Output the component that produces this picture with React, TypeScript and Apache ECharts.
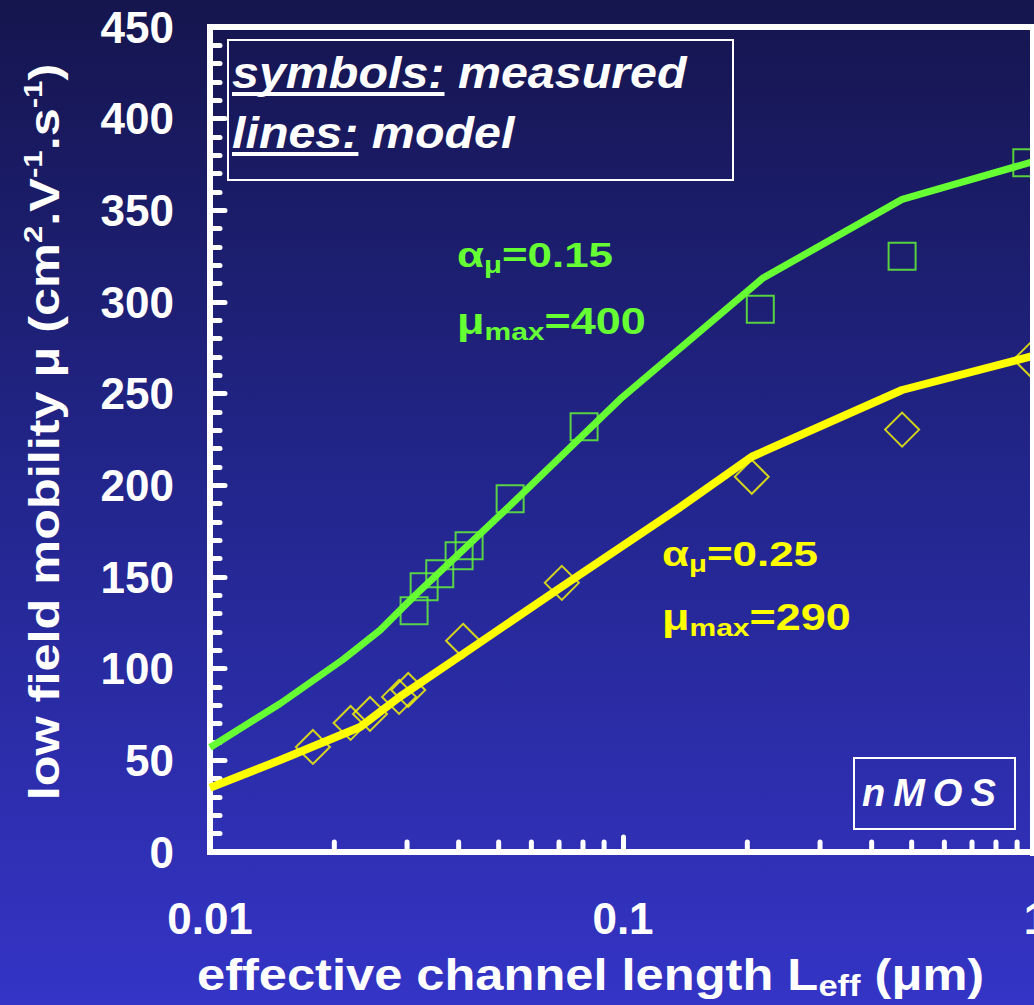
import { useEffect, useRef } from 'react';
import * as echarts from 'echarts';

// ---- data ----
const X_MIN = 0.01;
const X_MAX = 1;
const Y_MIN = 0;
const Y_MAX = 450;
const Y_INTERVAL = 50;

// measured points (symbols)
const greenMeasuredL = [0.0312, 0.033, 0.036, 0.0401, 0.0424, 0.0533, 0.0805, 0.215, 0.474, 0.95];
const greenMeasuredMu = [131.6, 144.7, 151.8, 161.6, 167.0, 192.7, 232.0, 296.0, 325.0, 376.0];
const yellowMeasuredL = [0.01775, 0.0219, 0.0244, 0.0287, 0.0302, 0.041, 0.0711, 0.205, 0.474, 0.97];
const yellowMeasuredMu = [57.3, 70.4, 75.3, 84.6, 88.4, 115.2, 146.8, 204.7, 230.4, 268.6];

// model curves (lines)
const greenModelL = [0.01, 0.0148, 0.021, 0.0258, 0.0312, 0.0533, 0.0805, 0.0984, 0.218, 0.474, 1.0];
const greenModelMu = [57, 81, 105, 121, 139.5, 189, 228, 247, 313, 356, 377];
const yellowModelL = [0.01, 0.0148, 0.0231, 0.0288, 0.041, 0.0711, 0.1374, 0.205, 0.474, 1.0];
const yellowModelMu = [35, 50.2, 68.2, 84.6, 108, 144.7, 188, 215.6, 252, 271];

const xMinorTicks = [0.02, 0.03, 0.04, 0.05, 0.06, 0.07, 0.08, 0.09, 0.2, 0.3, 0.4, 0.5, 0.6, 0.7, 0.8, 0.9];

const GREEN = '#66ff33';
const YELLOW = '#ffff00';
const FONT = '"Liberation Sans", Arial, Helvetica, sans-serif';

function measure(text: string, font: string): number {
  const c = document.createElement('canvas').getContext('2d');
  if (!c) return text.length * 20;
  c.font = font;
  return c.measureText(text).width;
}

export default function App() {
  const ref = useRef<HTMLDivElement>(null);

  useEffect(() => {
    if (!ref.current) return;
    const chart = echarts.init(ref.current, undefined, { renderer: 'svg' });

    const legendFont = `italic bold 44px ${FONT}`;
    const uSym = measure('symbols:', legendFont);
    const uLines = measure('lines:', legendFont);

    const richBase = (color: string, size: number) => ({
      a: { fontSize: size, fontWeight: 'bold', fontFamily: FONT, fill: color, lineHeight: size + 8 },
      s: { fontSize: Math.round(size * 0.68), fontWeight: 'bold', fontFamily: FONT, fill: color, verticalAlign: 'bottom', lineHeight: Math.round(size * 0.68) },
      p: { fontSize: Math.round(size * 0.62), fontWeight: 'bold', fontFamily: FONT, fill: color, verticalAlign: 'top', lineHeight: Math.round(size * 0.62) },
    });

    const annot = (text: string, x: number, y: number, color: string, sx: number) => ({
      type: 'text',
      x,
      y,
      scaleX: sx,
      z: 50,
      style: {
        text,
        rich: richBase(color, 36),
        fill: color,
        align: 'left',
        textAlign: 'left',
        verticalAlign: 'middle',
        textVerticalAlign: 'middle',
      },
    });

    const nmosLetters = 'nMOS'.split('');
    const nmosFont = `italic bold 38px ${FONT}`;
    let nx = 862;
    const nmosEls = nmosLetters.map((ch) => {
      const el = {
        type: 'text',
        x: nx,
        y: 793,
        z: 50,
        style: {
          text: ch,
          font: nmosFont,
          fill: '#ffffff',
          align: 'left',
          textAlign: 'left',
          verticalAlign: 'middle',
          textVerticalAlign: 'middle',
        },
      };
      nx += measure(ch, nmosFont) + 8;
      return el;
    });

    const option: any = {
      animation: false,
      backgroundColor: {
        type: 'linear',
        x: 0, y: 0, x2: 0, y2: 1,
        colorStops: [
          { offset: 0, color: '#15154e' },
          { offset: 0.5, color: '#23268e' },
          { offset: 1, color: '#3434c6' },
        ],
      },
      grid: {
        left: 210,
        right: -2,
        top: 27,
        bottom: 153,
        outerBoundsMode: 'none',
        containLabel: false,
        show: true,
        borderColor: '#ffffff',
        borderWidth: 6,
        backgroundColor: 'transparent',
      },
      xAxis: {
        type: 'log',
        logBase: 10,
        min: X_MIN,
        max: X_MAX,
        axisLine: { show: true, lineStyle: { color: '#ffffff', width: 6 } },
        axisTick: { show: true, inside: true, length: 15, lineStyle: { color: '#ffffff', width: 5, cap: 'round' } },
        minorTick: { show: false },
        splitLine: { show: false },
        axisLabel: {
          color: '#ffffff',
          fontSize: 44,
          fontWeight: 'bold',
          fontFamily: FONT,
          margin: 44,
          hideOverlap: false,
          formatter: (v: number) => String(+v.toPrecision(3)),
        },
      },
      yAxis: {
        type: 'value',
        min: Y_MIN,
        max: Y_MAX,
        interval: Y_INTERVAL,
        axisLine: { show: true, lineStyle: { color: '#ffffff', width: 6 } },
        axisTick: { show: true, inside: true, length: 15, lineStyle: { color: '#ffffff', width: 5, cap: 'round' } },
        minorTick: { show: true, splitNumber: 5, length: 10, lineStyle: { color: '#ffffff', width: 5, cap: 'round' } },
        splitLine: { show: false },
        axisLabel: {
          color: '#ffffff',
          fontSize: 44,
          fontWeight: 'bold',
          fontFamily: FONT,
          margin: 36,
        },
      },
      series: [
        {
          type: 'custom',
          name: 'x minor ticks',
          silent: true,
          z: 3,
          data: xMinorTicks.map((v) => [v, 0]),
          renderItem: (_p: any, api: any) => {
            const pt = api.coord([api.value(0), 0]);
            return {
              type: 'line',
              shape: { x1: pt[0], y1: pt[1] - 2, x2: pt[0], y2: pt[1] - 10 },
              style: { stroke: '#ffffff', lineWidth: 5, lineCap: 'round' },
            };
          },
        },
        {
          type: 'line',
          name: 'model α=0.15',
          data: greenModelL.map((l, i) => [l, greenModelMu[i]]),
          showSymbol: false,
          symbol: 'none',
          lineStyle: { color: GREEN, width: 7 },
          z: 4,
        },
        {
          type: 'line',
          name: 'model α=0.25',
          data: yellowModelL.map((l, i) => [l, yellowModelMu[i]]),
          showSymbol: false,
          symbol: 'none',
          lineStyle: { color: YELLOW, width: 8 },
          z: 4,
        },
        {
          type: 'scatter',
          name: 'measured α=0.15',
          data: greenMeasuredL.map((l, i) => [l, greenMeasuredMu[i]]),
          symbol: 'rect',
          symbolSize: 27,
          itemStyle: { color: 'rgba(0,0,0,0)', borderColor: GREEN, borderWidth: 2 },
          z: 5,
        },
        {
          type: 'scatter',
          name: 'measured α=0.25',
          data: yellowMeasuredL.map((l, i) => [l, yellowMeasuredMu[i]]),
          symbol: 'diamond',
          symbolSize: 34,
          itemStyle: { color: 'rgba(0,0,0,0)', borderColor: YELLOW, borderWidth: 2 },
          z: 5,
        },
      ],
      graphic: [
        // right frame edge
        { type: 'rect', z: 100, shape: { x: 1030, y: 24, width: 4, height: 832 }, style: { fill: '#ffffff' } },
        // y axis title
        {
          type: 'text',
          x: 45,
          y: 432,
          rotation: Math.PI / 2,
          scaleX: 1.2,
          z: 50,
          style: {
            text: '{a|low field mobility μ (cm}{p|2}{a|.V}{p|-1}{a|.s}{p|-1}{a|)}',
            rich: richBase('#ffffff', 42),
            fill: '#ffffff',
            align: 'center',
            textAlign: 'center',
            verticalAlign: 'middle',
            textVerticalAlign: 'middle',
          },
        },
        // x axis title
        {
          type: 'text',
          x: 197,
          y: 975,
          scaleX: 1.15,
          z: 50,
          style: {
            text: '{a|effective channel length L}{s|eff}{a| (μm)}',
            rich: richBase('#ffffff', 44),
            fill: '#ffffff',
            align: 'left',
            textAlign: 'left',
            verticalAlign: 'middle',
            textVerticalAlign: 'middle',
          },
        },
        // legend box
        { type: 'rect', z: 40, shape: { x: 228, y: 40, width: 505, height: 140 }, style: { fill: 'none', stroke: '#ffffff', lineWidth: 2 } },
        {
          type: 'group',
          x: 232,
          y: 73,
          scaleX: 1.1,
          z: 50,
          children: [
            { type: 'text', x: 0, y: 0, style: { text: 'symbols: measured', font: legendFont, fill: '#ffffff', align: 'left', textAlign: 'left', verticalAlign: 'middle', textVerticalAlign: 'middle' } },
            { type: 'rect', shape: { x: 0, y: 19, width: uSym, height: 4 }, style: { fill: '#ffffff' } },
          ],
        },
        {
          type: 'group',
          x: 232,
          y: 133,
          scaleX: 1.1,
          z: 50,
          children: [
            { type: 'text', x: 0, y: 0, style: { text: 'lines: model', font: legendFont, fill: '#ffffff', align: 'left', textAlign: 'left', verticalAlign: 'middle', textVerticalAlign: 'middle' } },
            { type: 'rect', shape: { x: 0, y: 19, width: uLines, height: 4 }, style: { fill: '#ffffff' } },
          ],
        },
        // annotations
        annot('{a|α}{s|μ}{a|=0.15}', 457, 255, GREEN, 1.22),
        annot('{a|μ}{s|max}{a|=400}', 457, 322, GREEN, 1.25),
        annot('{a|α}{s|μ}{a|=0.25}', 662, 554, YELLOW, 1.22),
        annot('{a|μ}{s|max}{a|=290}', 662, 618, YELLOW, 1.25),
        // nMOS box
        { type: 'rect', z: 40, shape: { x: 854, y: 758, width: 161, height: 71 }, style: { fill: 'none', stroke: '#ffffff', lineWidth: 2 } },
        ...nmosEls,
      ],
    };

    chart.setOption(option);
    return () => chart.dispose();
  }, []);

  return (
    <div
      ref={ref}
      style={{ position: 'fixed', left: 0, top: 0, width: 1034, height: 1005 }}
    />
  );
}
